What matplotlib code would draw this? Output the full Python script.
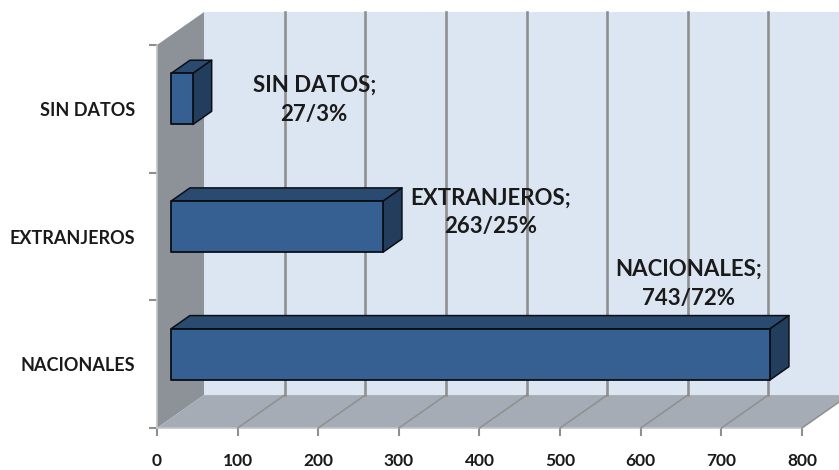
import matplotlib.pyplot as plt
from matplotlib.patches import Polygon

plt.rcParams['font.family'] = ['Lato', 'DejaVu Sans']

# Data
categories = ['NACIONALES', 'EXTRANJEROS', 'SIN DATOS']
values = [743, 263, 27]
labels = ['NACIONALES;\n743/72%', 'EXTRANJEROS;\n263/25%', 'SIN DATOS;\n27/3%']
label_x = [659, 414, 195]
label_y = [1.13, 1.69, 2.57]
x_ticks = [0, 100, 200, 300, 400, 500, 600, 700, 800]

# Fake 3D: how far the back wall is shifted from the front plane, in data units
DEPTH_X = 58.3
DEPTH_Y = 0.258
BAR_FRONT = 0.30
BAR_BACK = 0.70
BAR_H = 0.40


def proj(x, y, d):
    return (x + d * DEPTH_X, y + d * DEPTH_Y)


def face(ax, pts, color, z, edge='none', lw=0):
    ax.add_patch(Polygon(pts, closed=True, facecolor=color, edgecolor=edge,
                         linewidth=lw, zorder=z, clip_on=False,
                         joinstyle='round'))


fig = plt.figure(figsize=(8.39, 4.7), dpi=100)
ax = fig.add_axes([157 / 839, 1 - 428 / 470, 645 / 839, 383 / 470])
ax.set_xlim(0, 800)
ax.set_ylim(0, 3)
ax.patch.set_visible(False)

x0, x1 = x_ticks[0], x_ticks[-1]

# Walls and floor
face(ax, [proj(x0, 0, 1), proj(x1, 0, 1), proj(x1, 3, 1), proj(x0, 3, 1)], '#dce6f2', 1)
face(ax, [proj(x0, 0, 0), proj(x0, 0, 1), proj(x0, 3, 1), proj(x0, 3, 0)], '#8d9299', 2)
face(ax, [proj(x0, 0, 0), proj(x1, 0, 0), proj(x1, 0, 1), proj(x0, 0, 1)], '#a6acb5', 2)

# Gridlines on the back wall and across the floor
for t in x_ticks:
    if t == x0:
        continue
    fx, fy = zip(proj(t, 0, 0), proj(t, 0, 1))
    ax.plot(fx, fy, color='#8f8f8f', lw=1.1, zorder=3, clip_on=False)
    if t != x1:
        wx, wy = zip(proj(t, 0, 1), proj(t, 3, 1))
        ax.plot(wx, wy, color='#8f8f8f', lw=1.9, zorder=3, clip_on=False)

# Bars
for i, v in enumerate(values):
    lo = i + 0.5 - BAR_H / 2
    hi = i + 0.5 + BAR_H / 2
    z = 10 + (3 - i)
    face(ax, [proj(0, hi, BAR_FRONT), proj(v, hi, BAR_FRONT),
              proj(v, hi, BAR_BACK), proj(0, hi, BAR_BACK)],
         '#2a4a70', z, '#0a0f18', 1.1)
    face(ax, [proj(v, lo, BAR_FRONT), proj(v, lo, BAR_BACK),
              proj(v, hi, BAR_BACK), proj(v, hi, BAR_FRONT)],
         '#233d5c', z, '#0a0f18', 1.1)
    face(ax, [proj(0, lo, BAR_FRONT), proj(v, lo, BAR_FRONT),
              proj(v, hi, BAR_FRONT), proj(0, hi, BAR_FRONT)],
         '#376092', z, '#0a0f18', 1.3)

# Data labels
for s, lx, ly in zip(labels, label_x, label_y):
    ax.text(lx, ly, s, ha='center', va='center', fontsize=16,
            fontweight='bold', color='#1a1a1a', linespacing=1.45, zorder=20)

# Axes
for side in ['top', 'right']:
    ax.spines[side].set_visible(False)
for side in ['left', 'bottom']:
    ax.spines[side].set_color('#c4c4c4')
    ax.spines[side].set_linewidth(1.2)

ax.set_xticks(x_ticks)
ax.set_xticklabels([str(t) for t in x_ticks], fontsize=12.5, fontweight='bold',
                   color='#1a1a1a')
ax.tick_params(axis='x', length=6, width=1.5, color='#8f8f8f', pad=12)
ax.set_yticks([0, 1, 2, 3])
ax.set_yticklabels([])
ax.tick_params(axis='y', which='major', length=6, width=1.5, color='#8f8f8f')
ax.set_yticks([0.5, 1.5, 2.5], minor=True)
ax.set_yticklabels(categories, minor=True, fontsize=13, fontweight='bold',
                   color='#1a1a1a')
ax.tick_params(axis='y', which='minor', length=0, pad=16)

fig.savefig('out.png', dpi=100)
